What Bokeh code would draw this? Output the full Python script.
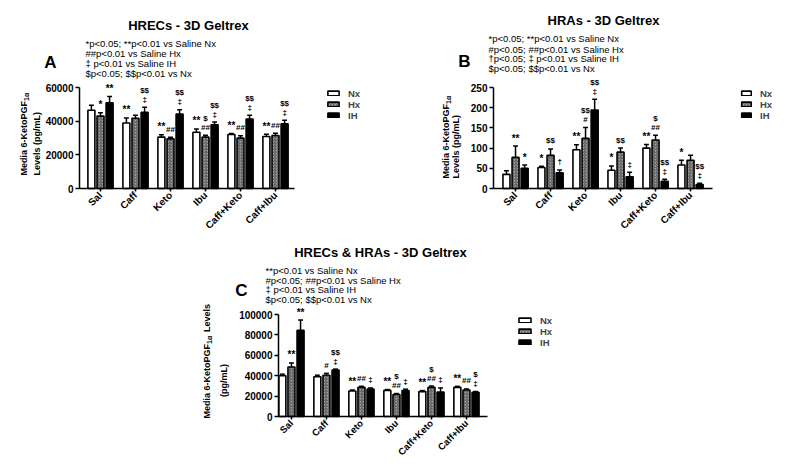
import math
from bokeh.plotting import figure
from bokeh.models import (Label, FixedTicker, Range1d, ColumnDataSource,
                          BasicTickFormatter, LinearAxis)
from bokeh.layouts import column, row
from bokeh.core.properties import value
from bokeh.embed import file_html
from bokeh.resources import INLINE

FONT = "Liberation Sans"

categories = ["Sal", "Caff", "Keto", "Ibu", "Caff+Keto", "Caff+Ibu"]
series = ["Nx", "Hx", "IH"]

# ---------------- Panel A : HRECs ----------------
a_title = "HRECs - 3D Geltrex"
a_notes = ["*p<0.05; **p<0.01 vs Saline Nx",
           "##p<0.01 vs Saline Hx",
           "\u2021 p<0.01 vs Saline IH",
           "$p<0.05; $$p<0.01 vs Nx"]
a_yticks = [0, 20000, 40000, 60000]
a_nx = [46500, 38900, 30500, 33400, 32100, 30900]
a_nx_err = [3000, 3000, 1400, 2000, 600, 1400]
a_hx = [43000, 41700, 29500, 30500, 29900, 31500]
a_hx_err = [2000, 1800, 1000, 1200, 1400, 1300]
a_ih = [50900, 45200, 44300, 37800, 41300, 38400]
a_ih_err = [3800, 3000, 2500, 1700, 2200, 2100]
a_nx_sig = ["", "**", "**", "**", "**", "**"]
a_hx_sig = ["*", "", "##", "##", "##", "##"]
a_hx_sig2 = ["", "", "", "$", "", ""]
a_ih_sig = ["**", "\u2021", "\u2021", "\u2021", "\u2021", "\u2021"]
a_ih_sig2 = ["", "$$", "$$", "$$", "$$", "$$"]

# ---------------- Panel B : HRAs ----------------
b_title = "HRAs - 3D Geltrex"
b_notes = ["*p<0.05; **p<0.01 vs Saline Nx",
           "#p<0.05; ##p<0.01 vs Saline Hx",
           "\u2020p<0.05; \u2021 p<0.01 vs Saline IH",
           "$p<0.05; $$p<0.01 vs Nx"]
b_yticks = [0, 50, 100, 150, 200, 250]
b_nx = [35, 52, 96, 45, 100, 58]
b_nx_err = [9, 3, 12, 11, 9, 12]
b_hx = [77, 82, 124, 90, 120, 70]
b_hx_err = [28, 16, 27, 10, 12, 12]
b_ih = [50, 39, 194, 29, 18, 10]
b_ih_err = [8, 7, 27, 11, 5, 3]
b_nx_sig = ["", "*", "**", "*", "**", "*"]
b_hx_sig = ["**", "$$", "#", "$$", "##", ""]
b_hx_sig2 = ["", "", "$$", "", "$", ""]
b_ih_sig = ["*", "\u2020", "\u2021", "\u2021", "\u2021", "\u2021"]
b_ih_sig2 = ["", "", "$$", "", "$$", "$$"]

# ---------------- Panel C : HRECs & HRAs ----------------
c_title = "HRECs & HRAs - 3D Geltrex"
c_notes = ["**p<0.01 vs Saline Nx",
           "#p<0.05; ##p<0.01 vs Saline Hx",
           "\u2021 p<0.01 vs Saline IH",
           "$p<0.05; $$p<0.01 vs Nx"]
c_yticks = [0, 20000, 40000, 60000, 80000, 100000]
c_nx = [40000, 39000, 25000, 25600, 24400, 28600]
c_nx_err = [1500, 1500, 1000, 800, 1000, 1000]
c_hx = [48500, 40500, 28600, 21500, 28600, 26000]
c_hx_err = [4000, 1800, 1000, 1000, 1300, 1000]
c_ih = [84600, 45500, 27000, 25500, 24000, 23800]
c_ih_err = [10000, 1000, 1000, 1300, 4000, 700]
c_nx_sig = ["", "", "**", "**", "**", "**"]
c_hx_sig = ["**", "#", "##", "##", "##", "##"]
c_hx_sig2 = ["", "", "", "$", "$", ""]
c_ih_sig = ["**", "\u2021", "\u2021", "\u2021", "\u2021", "\u2021"]
c_ih_sig2 = ["", "$$", "", "", "", "$"]

STYLE = {
    "Nx": dict(fill_color="white"),
    "Hx": dict(fill_color="#a0a0a0", hatch_pattern="/", hatch_color="#3c3c3c",
               hatch_scale=3.0, hatch_weight=0.8),
    "IH": dict(fill_color="black"),
}
OFFS = {"Nx": -0.26, "Hx": 0.0, "IH": 0.26}
PPU = 35.0  # pixels per category


def sym_size(s):
    return "10px" if "*" in s else "8px"


def panel(letter, title, notes, yticks, vals, errs, sig1, sig2, geo):
    ox, oy, W, H = geo["box"]
    xa_px, xa_val, xb_end = geo["xaxis"]      # y-axis pixel column, its x value, x-axis end
    y0_px, ytop_px = geo["yaxis"]             # pixel rows of 0 and of the top tick
    ypx = (y0_px - ytop_px) / yticks[-1]
    x_start = xa_val - (xa_px - ox) / PPU
    x_end = x_start + W / PPU
    y_start = -(oy + H - y0_px) / ypx
    y_end = (y0_px - oy) / ypx

    p = figure(width=W, height=H, output_backend="svg", toolbar_location=None,
               x_range=Range1d(x_start, x_end), y_range=Range1d(y_start, y_end),
               x_axis_type=None, y_axis_type=None, min_border=0)
    p.min_border_left = p.min_border_right = 0
    p.min_border_top = p.min_border_bottom = 0
    p.outline_line_color = None
    p.grid.visible = False
    p.background_fill_color = "white"

    def sx(ix):
        return ix - ox

    def sy(iy):
        return oy + H - iy

    for k, name in enumerate(series):
        xs = [i + OFFS[name] for i in range(len(categories))]
        tops = [v + e for v, e in zip(vals[k], errs[k])]
        src = ColumnDataSource(dict(
            x=xs, v=vals[k], top=tops,
            x0=[x - 0.07 for x in xs], x1=[x + 0.07 for x in xs],
            s1=sig1[k], s2=sig2[k],
            f1=[sym_size(s) for s in sig1[k]], f2=[sym_size(s) for s in sig2[k]]))
        p.segment(x0="x", y0="v", x1="x", y1="top", source=src,
                  line_color="black", line_width=1.5)
        p.segment(x0="x0", y0="top", x1="x1", y1="top", source=src,
                  line_color="black", line_width=1.5)
        p.vbar(x="x", top="v", width=0.2, source=src, line_color="black",
               line_width=1.6, legend_label=name, **STYLE[name])
        for col, fcol, off in (("s1", "f1", -8), ("s2", "f2", -17)):
            p.text(x="x", y="top", text=col, source=src, y_offset=off,
                   text_align="center", text_baseline="middle",
                   text_font=value(FONT), text_font_style="bold",
                   text_font_size=fcol, text_color="black")

    yax = LinearAxis(fixed_location=xa_val, ticker=FixedTicker(ticks=yticks),
                     bounds=(0, yticks[-1]),
                     formatter=BasicTickFormatter(use_scientific=False))
    xax = LinearAxis(fixed_location=0, ticker=FixedTicker(ticks=list(range(len(categories)))),
                     bounds=(xa_val, xb_end))
    xax.major_label_overrides = {i: c for i, c in enumerate(categories)}
    for ax in (xax, yax):
        ax.axis_line_width = 1.5
        ax.axis_line_color = "black"
        ax.major_tick_line_width = 1.5
        ax.major_tick_in = 0
        ax.major_tick_out = 4
        ax.minor_tick_line_color = None
        ax.major_label_text_font = FONT
        ax.major_label_text_font_style = "bold"
        ax.major_label_text_font_size = "10px"
        ax.major_label_text_color = "black"
    xax.major_label_orientation = math.pi / 4
    xax.major_label_standoff = 2
    xax.major_tick_out = 3
    xax.major_label_text_font_size = geo.get("xfs", "10px")
    yax.major_label_standoff = 2
    p.add_layout(yax, "left")
    p.add_layout(xax, "below")

    def lab(ix, iy, text, size, style="normal", align="left", angle=0.0,
            baseline="middle"):
        p.add_layout(Label(x=sx(ix), y=sy(iy), x_units="screen", y_units="screen",
                           text=text, text_font=FONT, text_font_size=size,
                           text_font_style=style, text_align=align,
                           text_baseline=baseline, angle=angle,
                           text_color="black"))

    tx, ty = geo["title"]
    lab(tx, ty, title, "13px", "bold", "center")
    nx_, nys = geo["notes"]
    for t, yy in zip(notes, nys):
        lab(nx_, yy, t, "9.5px")
    lx, ly = geo["letter"]
    lab(lx, ly, letter, "17px", "bold", "center")

    # y axis title (rotated)
    yl = geo["ylab"]
    lab(yl["x1"], yl["p"], "Media 6-KetoPGF", "9px", "bold", "right", math.pi / 2)
    lab(yl["x1"] + 3, yl["p"], "1\u03b1", "7px", "bold", "left", math.pi / 2)
    if yl.get("tail"):
        lab(yl["x1"], yl["p"] - 12, yl["tail"], "9px", "bold", "left", math.pi / 2)
    lab(yl["x2"], yl["y2"], yl["line2"], "9px", "bold", yl["align2"], math.pi / 2)

    leg = p.legend[0]
    gx, gtop = geo["legend"]
    leg.location = (sx(gx), sy(gtop + 32.5))
    leg.padding = 0
    leg.margin = 0
    leg.spacing = 0
    leg.border_line_color = None
    leg.background_fill_alpha = 0
    leg.glyph_width = geo.get("gw", 14)
    leg.glyph_height = 6
    leg.label_height = 9
    leg.label_standoff = 8
    leg.label_text_font = FONT
    leg.label_text_font_style = "bold"
    leg.label_text_font_size = "9.5px"
    leg.label_text_line_height = 1.0
    return p


geo_a = dict(box=(0, 0, 400, 236), xaxis=(79, -0.6, 5.55), yaxis=(188, 87),
             title=(188, 25), notes=(85, [43, 53, 63, 73]), letter=(50, 62),
             legend=(326, 88), gw=14,
             ylab=dict(x1=23, p=100.5, x2=36, y2=175, line2="Levels (pg/mL)",
                       align2="left"))
geo_b = dict(box=(400, 0, 400, 236), xaxis=(493, -0.63, 5.63), yaxis=(188, 87),
             title=(603, 20), notes=(488, [38, 48.5, 58, 68]), letter=(464, 61),
             legend=(740, 88), gw=12,
             ylab=dict(x1=445, p=103.5, x2=455, y2=178, line2="Levels (pg/mL)",
                       align2="left"))
geo_c = dict(box=(0, 236, 800, 234), xaxis=(278, -0.37, 5.6), yaxis=(416, 314),
             title=(380, 252), notes=(265, [270, 279.5, 289, 299]), letter=(241, 290),
             legend=(517, 315), gw=15, xfs="9.5px",
             ylab=dict(x1=206, p=343.5, tail="Levels", x2=223, y2=380,
                       line2="(pg/mL)", align2="center"))

pa = panel("A", a_title, a_notes, a_yticks,
           [a_nx, a_hx, a_ih], [a_nx_err, a_hx_err, a_ih_err],
           [a_nx_sig, a_hx_sig, a_ih_sig], [[""] * 6, a_hx_sig2, a_ih_sig2], geo_a)
pb = panel("B", b_title, b_notes, b_yticks,
           [b_nx, b_hx, b_ih], [b_nx_err, b_hx_err, b_ih_err],
           [b_nx_sig, b_hx_sig, b_ih_sig], [[""] * 6, b_hx_sig2, b_ih_sig2], geo_b)
pc = panel("C", c_title, c_notes, c_yticks,
           [c_nx, c_hx, c_ih], [c_nx_err, c_hx_err, c_ih_err],
           [c_nx_sig, c_hx_sig, c_ih_sig], [[""] * 6, c_hx_sig2, c_ih_sig2], geo_c)

layout = column(row(pa, pb), pc)

with open("out.html", "w") as f:
    f.write(file_html(layout, INLINE))
